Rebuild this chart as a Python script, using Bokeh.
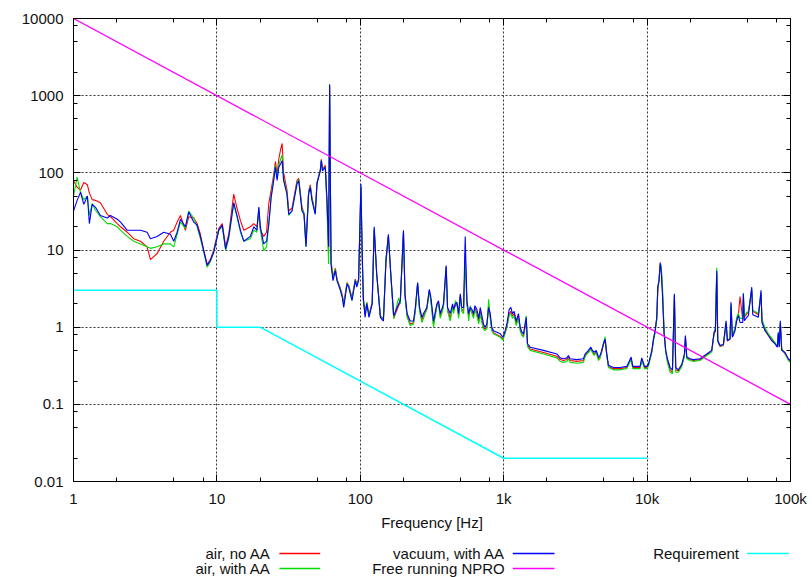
from bokeh.plotting import figure
from bokeh.models import LogAxis, FixedTicker
from bokeh.layouts import column
from bokeh.embed import file_html
from bokeh.resources import INLINE
from bokeh.core.properties import value

# ---------------- data ----------------
freq = [
    1.0, 1.06, 1.12, 1.18, 1.25, 1.29, 1.35, 1.42, 1.54, 1.72,
    1.81, 2.02, 2.13, 2.37, 2.63, 2.93, 3.26, 3.44, 3.83, 4.26,
    4.74, 5.0, 5.28, 5.57, 6.03, 6.36, 6.89, 7.28, 7.67, 8.09,
    8.55, 9.0, 9.5, 10.3, 10.9, 11.5, 12.1, 13.1, 13.8, 14.6,
    15.4, 17.1, 18.1, 19.0, 19.6, 20.1, 21.2, 22.2, 23.0, 23.9,
    24.9, 25.6, 26.3, 27.0, 27.8, 28.5, 29.2, 30.8, 31.7, 33.4,
    36.2, 37.2, 39.2, 40.5, 41.8, 43.6, 44.8, 46.0, 48.5, 49.9,
    52.6, 53.5, 54.5, 57.0, 58.6, 60.1, 61.1, 62.5, 64.5, 67.0,
    68.8, 72.6, 75.0, 76.6, 80.8, 83.0, 87.5, 92.3, 94.5, 97.3,
    101, 103, 105, 108, 111, 115, 121, 125, 130, 138,
    145, 151, 157, 163, 171, 185, 190, 200, 205, 212,
    223, 235, 242, 251, 259, 269, 276, 291, 303, 311,
    324, 342, 351, 361, 370, 380, 397, 406, 424, 440,
    447, 460, 472, 485, 498, 510, 525, 539, 554, 570,
    584, 600, 616, 630, 650, 670, 686, 700, 723, 740,
    763, 785, 805, 826, 849, 897, 946, 987, 1024, 1052,
    1092, 1122, 1150, 1183, 1222, 1268, 1303, 1340, 1374, 1435,
    1466, 1531, 1894, 2347, 2477, 2612, 2757, 2829, 2905, 3236,
    3599, 3698, 3899, 4053, 4159, 4274, 4415, 4584, 4702, 4831,
    4963, 5096, 5233, 5376, 5825, 6486, 7221, 7738, 7950, 8935,
    9180, 9600, 9950, 10210, 10790, 11070, 11370, 11680, 11870, 12130,
    12330, 12530, 12790, 13140, 13490, 13860, 14470, 15020, 15500, 15840,
    16530, 17450, 18210, 18500, 18910, 19950, 21050, 23410, 26060, 28230,
    29300, 29940, 30600, 31100, 32270, 34040, 35540, 36310, 37880, 38480,
    39330, 41030, 42180, 43300, 44490, 46460, 46920, 47660, 49500, 50820,
    53660, 54540, 56600, 59680, 62290, 63270, 66380, 70030, 73900, 77960,
    80950, 82200, 83500, 84900, 86800, 91600, 96600, 100000,
]

vacuum_with_aa = [
    32, 44, 56, 39, 50, 22, 39, 36, 28, 26,
    28, 25, 23, 18, 18, 18, 17, 14, 15, 17,
    16, 13, 17, 25, 20, 31, 23, 21, 15, 9.8,
    6.3, 7.3, 9.3, 18, 21, 10.3, 15, 41, 28, 18,
    13, 15, 20, 18, 36, 20, 12, 13, 22, 48,
    79, 118, 80, 118, 130, 144, 79, 53, 29, 32,
    72, 79, 32, 29, 11, 53, 65, 44, 29, 72,
    106, 144, 106, 118, 44, 11, 1410, 6.5, 4.0, 5.4,
    4.0, 3.0, 2.4, 1.8, 3.6, 3.3, 2.2, 4.0, 3.3, 4.0,
    72, 10, 2.4, 1.34, 2.0, 1.34, 2.0, 20, 5.0, 1.34,
    1.2, 7.3, 16, 5.0, 1.4, 2.0, 2.2, 18, 2.7, 1.5,
    1.2, 1.2, 1.8, 3.8, 1.8, 1.34, 1.5, 1.8, 3.1, 2.4,
    1.2, 2.0, 2.2, 1.5, 1.7, 2.0, 6.3, 1.8, 1.5, 2.0,
    1.7, 2.0, 2.1, 1.5, 2.7, 1.8, 1.8, 15, 2.2, 1.5,
    1.8, 1.7, 1.5, 1.9, 1.7, 1.3, 1.8, 1.5, 1.1, 1.0,
    1.1, 1.8, 1.5, 1.0, 0.90, 0.86, 0.82, 0.74, 0.90, 1.1,
    1.7, 1.8, 1.5, 1.6, 1.2, 1.5, 1.0, 0.86, 0.82, 1.34,
    0.61, 0.55, 0.50, 0.45, 0.40, 0.39, 0.40, 0.43, 0.39, 0.38,
    0.39, 0.45, 0.50, 0.55, 0.50, 0.47, 0.50, 0.41, 0.43, 0.50,
    0.61, 0.70, 0.45, 0.32, 0.30, 0.30, 0.31, 0.41, 0.31, 0.31,
    0.40, 0.31, 0.31, 0.33, 0.50, 0.70, 0.90, 1.34, 3.3, 4.0,
    6.9, 5.4, 2.7, 0.82, 0.50, 0.39, 0.30, 0.28, 2.7, 0.30,
    0.28, 0.33, 0.45, 0.78, 0.41, 0.39, 0.38, 0.39, 0.45, 0.50,
    0.86, 0.90, 5.4, 0.67, 0.58, 0.60, 1.21, 0.67, 0.70, 2.1,
    0.74, 0.90, 1.21, 1.41, 1.15, 1.15, 2.7, 1.21, 1.34, 1.41,
    3.3, 1.45, 1.41, 1.34, 3.0, 1.15, 0.90, 0.78, 0.67, 0.61,
    0.55, 0.86, 0.55, 1.21, 0.50, 0.47, 0.39, 0.37,
]

air_no_aa = [
    79, 65, 60, 75, 70, 55, 45, 44, 41, 29,
    27, 22, 20, 17, 14, 13, 11, 7.5, 9, 13,
    17, 18, 23, 28, 18, 27, 26, 22, 16, 10,
    6.5, 7.5, 10, 19, 22, 11, 16, 53, 35, 24,
    18, 20, 22, 20, 30, 18, 15, 17, 40, 60,
    95, 140, 95, 150, 200, 240, 100, 60, 32, 35,
    80, 85, 36, 30, 12, 58, 70, 48, 30, 75,
    110, 150, 110, 125, 40, 9, 1300, 7.0, 4.5, 5.8,
    4.2, 3.2, 2.6, 2.0, 3.8, 3.5, 2.4, 4.2, 3.6, 4.2,
    65, 9, 2.2, 1.5, 2.1, 1.45, 2.1, 18, 5.0, 1.4,
    1.3, 7.0, 15, 5.0, 1.3, 1.9, 2.1, 17, 2.5, 1.4,
    1.1, 1.15, 1.7, 3.6, 1.7, 1.25, 1.4, 1.7, 3.0, 2.2,
    1.1, 1.9, 2.1, 1.4, 1.6, 1.9, 6.0, 1.7, 1.3, 1.8,
    1.6, 1.9, 2.0, 1.4, 2.5, 1.7, 1.6, 9, 2.0, 1.4,
    1.7, 1.6, 1.4, 1.8, 1.5, 1.2, 1.6, 1.3, 1.0, 0.95,
    1.0, 1.9, 1.4, 0.95, 0.85, 0.80, 0.76, 0.70, 0.85, 1.0,
    1.5, 1.6, 1.4, 1.5, 1.1, 1.4, 0.95, 0.80, 0.76, 1.2,
    0.58, 0.52, 0.47, 0.42, 0.38, 0.37, 0.38, 0.41, 0.37, 0.36,
    0.37, 0.43, 0.48, 0.53, 0.48, 0.44, 0.48, 0.39, 0.41, 0.48,
    0.60, 0.68, 0.43, 0.31, 0.29, 0.29, 0.30, 0.39, 0.30, 0.30,
    0.38, 0.30, 0.30, 0.32, 0.48, 0.68, 0.88, 1.3, 3.0, 4.2,
    6.5, 6.0, 3.0, 0.85, 0.48, 0.37, 0.28, 0.26, 2.5, 0.28,
    0.27, 0.32, 0.43, 0.75, 0.40, 0.38, 0.37, 0.38, 0.44, 0.49,
    0.82, 0.88, 5.0, 0.65, 0.56, 0.58, 1.1, 0.66, 0.70, 1.9,
    0.76, 0.95, 1.3, 1.45, 2.5, 1.25, 2.4, 1.35, 1.5, 1.55,
    3.0, 1.6, 1.55, 1.45, 2.6, 1.2, 0.95, 0.80, 0.70, 0.62,
    0.56, 0.80, 0.56, 1.1, 0.52, 0.45, 0.38, 0.36,
]

air_with_aa = [
    50, 88, 55, 45, 50, 28, 40, 33, 27, 22,
    22, 20, 18, 15, 13, 12, 11, 10.5, 11, 12,
    12, 11, 16, 23, 19, 32, 26, 20, 14, 9.5,
    6.0, 7.0, 9.5, 18, 20, 10, 14, 40, 27, 17,
    13, 14, 18, 17, 35, 18, 9.8, 11, 21, 50,
    85, 125, 85, 125, 150, 170, 85, 55, 28, 32,
    75, 82, 34, 30, 11, 55, 67, 46, 30, 74,
    108, 145, 108, 120, 35, 6.6, 1350, 7.5, 4.2, 5.6,
    4.1, 3.1, 2.5, 1.9, 3.7, 3.4, 2.3, 4.1, 3.5, 4.1,
    68, 9.5, 2.3, 1.45, 2.1, 1.4, 2.0, 19, 5.0, 1.4,
    1.25, 8.0, 15, 5.0, 1.3, 2.4, 2.0, 17, 2.6, 1.35,
    1.05, 1.1, 1.6, 3.7, 1.6, 1.15, 1.3, 1.7, 2.9, 2.1,
    1.0, 1.9, 2.0, 1.3, 1.5, 1.8, 6.0, 1.6, 1.2, 1.9,
    1.5, 2.2, 2.0, 1.3, 2.6, 1.6, 1.5, 8, 2.1, 1.2,
    1.9, 1.5, 1.3, 1.7, 1.4, 1.1, 1.5, 1.2, 0.95, 0.9,
    0.95, 2.3, 1.3, 0.9, 0.82, 0.78, 0.74, 0.68, 0.85, 1.0,
    1.4, 1.5, 1.3, 1.4, 1.05, 1.3, 0.9, 0.78, 0.74, 1.4,
    0.56, 0.50, 0.45, 0.40, 0.36, 0.35, 0.36, 0.39, 0.35, 0.34,
    0.35, 0.42, 0.47, 0.52, 0.47, 0.43, 0.47, 0.37, 0.40, 0.50,
    0.62, 0.75, 0.44, 0.30, 0.28, 0.28, 0.29, 0.38, 0.29, 0.29,
    0.37, 0.29, 0.29, 0.31, 0.47, 0.66, 0.85, 1.25, 3.2, 4.5,
    6.0, 6.5, 3.5, 0.9, 0.47, 0.35, 0.26, 0.25, 2.6, 0.26,
    0.26, 0.31, 0.42, 0.70, 0.39, 0.37, 0.36, 0.37, 0.43, 0.48,
    0.84, 1.0, 5.9, 0.66, 0.57, 0.59, 1.15, 0.68, 0.72, 2.0,
    0.78, 0.98, 1.35, 1.5, 1.3, 1.3, 2.8, 1.4, 1.55, 1.6,
    3.1, 1.65, 1.6, 1.5, 2.8, 1.25, 0.98, 0.82, 0.72, 0.63,
    0.57, 0.84, 0.57, 1.15, 0.53, 0.46, 0.37, 0.35,
]

npro_freq = [1, 100000]
npro = [10000, 0.1]

req_freq = [1, 10, 10, 20, 1000, 10000]
requirement = [3, 3, 1, 1, 0.02, 0.02]

x_ticks = [1, 10, 100, 1000, 10000, 100000]
x_tick_labels = ["1", "10", "100", "1k", "10k", "100k"]
y_ticks = [0.01, 0.1, 1, 10, 100, 1000, 10000]
y_tick_labels = ["0.01", "0.1", "1", "10", "100", "1000", "10000"]

legend_labels = ["air, no AA", "air, with AA", "vacuum, with AA",
                 "Free running NPRO", "Requirement"]
colors = ["#ff0000", "#00dd00", "#0000ff", "#ff00ff", "#00ffff"]

# ---------------- styling ----------------
FONT = "Liberation Sans"
FS = "15px"
x_minor = [m * d for d in [1, 10, 100, 1000, 10000] for m in (2, 5, 8)]
y_minor = [m * d for d in [0.01, 0.1, 1, 10, 100, 1000] for m in (2, 5, 8)]

p = figure(width=808, height=540, x_axis_type="log", y_axis_type="log",
           x_range=(1, 100000), y_range=(0.01, 10000),
           output_backend="svg", toolbar_location=None,
           min_border_left=73, min_border_right=18,
           min_border_top=18, min_border_bottom=59,
           x_axis_label="Frequency [Hz]")
p.background_fill_color = "white"
p.border_fill_color = "white"
p.outline_line_color = "black"
p.outline_line_width = 1

p.xaxis.ticker = FixedTicker(ticks=x_ticks, minor_ticks=x_minor)
p.yaxis.ticker = FixedTicker(ticks=y_ticks, minor_ticks=y_minor)
p.xaxis.major_label_overrides = dict(zip(x_ticks, x_tick_labels))
p.yaxis.major_label_overrides = dict(zip(y_ticks, y_tick_labels))

for ax in (p.xaxis[0], p.yaxis[0]):
    ax.major_tick_in = 7
    ax.major_tick_out = 0
    ax.minor_tick_in = 4
    ax.minor_tick_out = 0
    ax.axis_line_color = "black"
    ax.major_tick_line_color = "black"
    ax.minor_tick_line_color = "black"
    ax.major_label_text_font = FONT
    ax.major_label_text_font_size = FS
    ax.major_label_text_color = "#111111"
    ax.axis_label_text_font = FONT
    ax.axis_label_text_font_size = FS
    ax.axis_label_text_font_style = "normal"
    ax.axis_label_text_color = "#111111"
p.xaxis.major_label_standoff = 8
p.xaxis.axis_label_standoff = 4
p.yaxis.major_label_standoff = 10

for loc, ticks, minor in (("above", x_ticks, x_minor), ("right", y_ticks, y_minor)):
    mirror = LogAxis(ticker=FixedTicker(ticks=ticks, minor_ticks=minor),
                     major_label_text_font_size="1px", major_label_text_alpha=0,
                     major_label_standoff=0,
                     major_tick_in=7, major_tick_out=0,
                     minor_tick_in=4, minor_tick_out=0,
                     axis_line_color="black")
    p.add_layout(mirror, loc)

for g in (p.xgrid[0], p.ygrid[0]):
    g.grid_line_color = "black"
    g.grid_line_dash = "2 2"
    g.grid_line_alpha = 0.8
    g.grid_line_width = 1

p.line(freq, air_no_aa, line_color=colors[0], line_width=1.1)
p.line(freq, air_with_aa, line_color=colors[1], line_width=1.1)
p.line(freq, vacuum_with_aa, line_color=colors[2], line_width=1.1)
p.line(npro_freq, npro, line_color=colors[3], line_width=1.3)
p.line(req_freq, requirement, line_color=colors[4], line_width=1.5)

# ---------------- legend strip (label left of sample, as in the original) ----------------
q = figure(width=808, height=37, x_range=(0, 808), y_range=(0, 37),
           output_backend="svg", toolbar_location=None,
           x_axis_location=None, y_axis_location=None,
           min_border_left=0, min_border_right=0, min_border_top=0, min_border_bottom=0)
q.grid.visible = False
q.outline_line_color = None
q.background_fill_color = "white"
q.border_fill_color = "white"

lx_text = [222, 222, 486, 486, 750]
lx0 = [232, 232, 495, 495, 759]
lx1 = [278, 278, 542, 542, 806]
ly = [24, 9, 24, 9, 24]
q.text(x=lx_text, y=ly, text=legend_labels, text_align="right",
       text_baseline="middle", text_font=value(FONT),
       text_font_size=value(FS), text_color="#111111")
q.segment(x0=lx0, x1=lx1, y0=ly, y1=ly, line_color=colors, line_width=1.5)

layout = column(p, q)
open("out.html", "w").write(file_html(layout, INLINE))
